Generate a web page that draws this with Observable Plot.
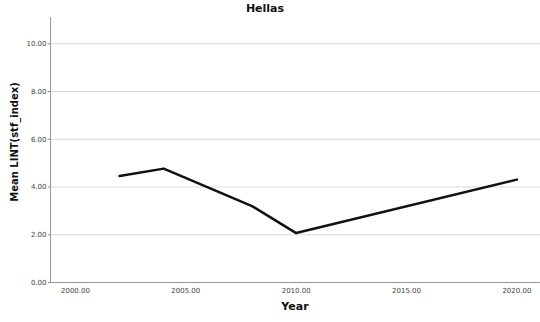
<!DOCTYPE html>
<html>
<head>
<meta charset="utf-8">
<script src="https://cdn.jsdelivr.net/npm/d3@7"></script>
<script src="https://cdn.jsdelivr.net/npm/@observablehq/plot@0.6"></script>
<style>
  body { margin: 0; background: #fff; }
  #title { width: 530px; height: 17px; text-align: center; font: bold 11px "DejaVu Sans", sans-serif; line-height: 17px; color: #111; }
</style>
</head>
<body>
<div id="title"></div>
<div id="chart"></div>
<script>
const chartTitle = "Hellas";
const years = [2002, 2004, 2008, 2010, 2020];
const meanValues = [4.46, 4.77, 3.2, 2.07, 4.31];
const xTicks = [2000, 2005, 2010, 2015, 2020];
const yTicks = [0, 2, 4, 6, 8, 10];
const xLabel = "Year";
const yLabel = "Mean LINT(stf_index)";

document.getElementById("title").textContent = chartTitle;
const data = years.map((y, i) => ({year: y, value: meanValues[i]}));
const fmt = d3.format(".2f");

const plot = Plot.plot({
  width: 540,
  height: 305,
  marginTop: 0,
  marginLeft: 50,
  marginRight: 0,
  marginBottom: 40,
  style: {fontFamily: "DejaVu Sans, sans-serif", fontSize: "7px", color: "#444", background: "#fff"},
  x: {domain: [1998.87, 2021.07]},
  y: {domain: [0, 11.1]},
  marks: [
    Plot.gridY(yTicks.filter(d => d > 0), {stroke: "#d9d9d9", strokeOpacity: 1, strokeWidth: 1}),
    Plot.axisY(yTicks, {tickFormat: fmt, tickSize: 2, tickPadding: 2, stroke: "#888", fill: "#444", label: null}),
    Plot.axisX(xTicks, {tickFormat: fmt, tickSize: 0, tickPadding: 6, fill: "#444", label: null}),
    Plot.ruleX([1998.87], {stroke: "#999", strokeWidth: 1}),
    Plot.ruleY([0], {stroke: "#999", strokeWidth: 1}),
    Plot.lineY(data, {x: "year", y: "value", stroke: "#111", strokeWidth: 2.5})
  ]
});
// Axis titles
const svg = d3.select(plot);
svg.append("text")
  .attr("transform", "translate(15,125) rotate(-90)")
  .attr("text-anchor", "middle")
  .attr("dominant-baseline", "middle")
  .style("font", "bold 10px 'DejaVu Sans', sans-serif")
  .style("fill", "#111")
  .text(yLabel);
svg.append("text")
  .attr("x", 295).attr("y", 290)
  .attr("text-anchor", "middle")
  .attr("dominant-baseline", "middle")
  .style("font", "bold 11px 'DejaVu Sans', sans-serif")
  .style("fill", "#111")
  .text(xLabel);
document.getElementById("chart").appendChild(plot);
</script>
</body>
</html>
